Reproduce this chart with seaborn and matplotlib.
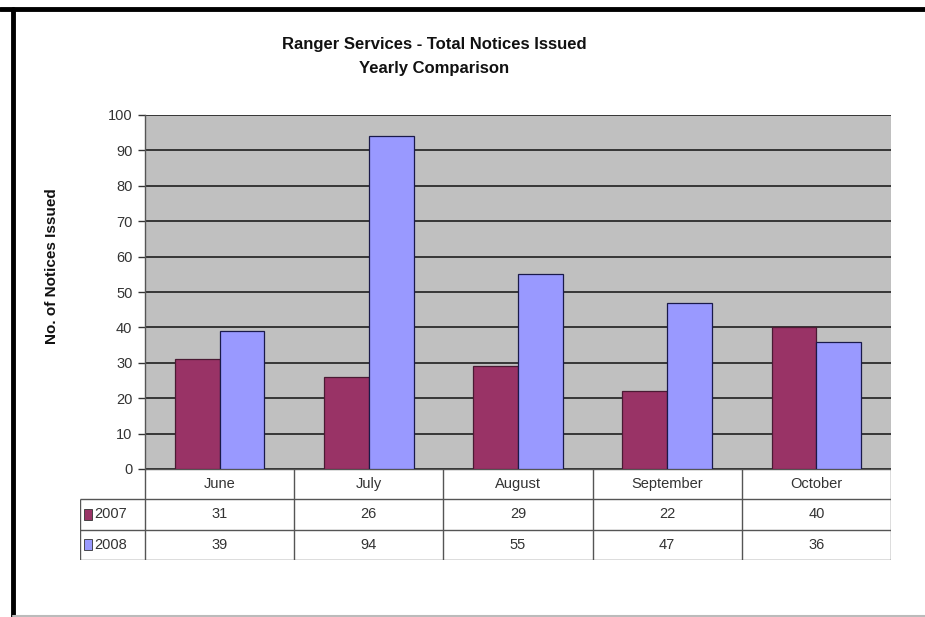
import matplotlib
matplotlib.use("Agg")
import matplotlib.pyplot as plt
from matplotlib.lines import Line2D
from matplotlib.patches import Rectangle
import seaborn as sns
import pandas as pd

months = ["June", "July", "August", "September", "October"]
years = ["2007", "2008"]
notices_2007 = [31, 26, 29, 22, 40]
notices_2008 = [39, 94, 55, 47, 36]
y_ticks = [0, 10, 20, 30, 40, 50, 60, 70, 80, 90, 100]

colors = {"2007": "#993366", "2008": "#9999FF"}

df = pd.DataFrame({
    "Month": months * 2,
    "Year": [years[0]] * len(months) + [years[1]] * len(months),
    "Notices": notices_2007 + notices_2008,
})

sns.set_theme(style="white")
plt.rcParams["font.family"] = ["Liberation Sans Narrow", "Liberation Sans", "DejaVu Sans"]

W, H = 925, 617
fig = plt.figure(figsize=(W / 100, H / 100), dpi=100)
fig.patch.set_facecolor("white")

def fx(px):
    return px / W

def fy(py):
    return 1 - py / H

# plot area in pixel terms
L, R, T, B = 145, 891, 115, 469
ax = fig.add_axes([fx(L), fy(B), fx(R - L), (B - T) / H])
ax.set_facecolor("#C0C0C0")

sns.barplot(data=df, x="Month", y="Notices", hue="Year", order=months,
            hue_order=years, palette=colors, width=0.6, gap=0,
            edgecolor="#1a1a4a", linewidth=0.9, saturation=1, ax=ax,
            legend=False, zorder=3)
for patch in ax.patches[:len(months)]:
    patch.set_edgecolor("#4a1a33")

ax.set_xlim(-0.5, len(months) - 0.5)
ax.set_ylim(0, 100)
ax.set_yticks(y_ticks)
ax.set_yticklabels([str(t) for t in y_ticks], fontsize=10.5, color="#333333")
ax.tick_params(axis="y", length=5, width=1, color="#333333", pad=4, left=True)
ax.tick_params(axis="x", length=0, labelbottom=False)
ax.set_xlabel("")
ax.set_ylabel("")
ax.yaxis.grid(True, color="#111111", linewidth=1.1, zorder=1)
ax.set_axisbelow(True)
for side in ["top", "right", "bottom"]:
    ax.spines[side].set_visible(False)
ax.spines["left"].set_color("#555555")
ax.spines["left"].set_linewidth(1.0)

# data table below the plot
cat_px = (R - L) / len(months)
left_px = 80
tab = fig.add_axes([fx(left_px), fy(560), fx(R - left_px), (560 - 469) / H])
x0 = -0.5 - (L - left_px) / cat_px
tab.set_xlim(x0, len(months) - 0.5)
tab.set_ylim(3, 0)
tab.axis("off")
line_kw = dict(color="#555555", linewidth=1.0, solid_capstyle="butt")

# horizontal lines
tab.add_line(Line2D([-0.5, len(months) - 0.5], [0, 0], **line_kw))
for r in (1, 2, 3):
    tab.add_line(Line2D([x0, len(months) - 0.5], [r, r], **line_kw))
# vertical lines
for i in range(len(months) + 1):
    tab.add_line(Line2D([i - 0.5, i - 0.5], [0, 3], **line_kw))
tab.add_line(Line2D([x0, x0], [1, 3], **line_kw))

txt_kw = dict(ha="center", va="center", fontsize=10.5, color="#333333")
for i, m in enumerate(months):
    tab.text(i, 0.5, m, **txt_kw)
    tab.text(i, 1.5, str(notices_2007[i]), **txt_kw)
    tab.text(i, 2.5, str(notices_2008[i]), **txt_kw)

for r, yr in enumerate(years, start=1):
    sw = (5 / cat_px)
    tab.add_patch(Rectangle((x0 + 0.03, r + 0.32), sw * 1.5, 0.36,
                            facecolor=colors[yr], edgecolor="#333333", linewidth=0.6))
    tab.text(x0 + 0.03 + sw * 1.5 + 0.015, r + 0.5, yr, ha="left", va="center",
             fontsize=10.5, color="#333333")

# title and axis label
fig.text(fx(434), fy(45), "Ranger Services - Total Notices Issued", ha="center",
         va="center", fontsize=12, fontweight="bold", color="#111111")
fig.text(fx(434), fy(69), "Yearly Comparison", ha="center", va="center",
         fontsize=12, fontweight="bold", color="#111111")
fig.text(fx(52), fy(266), "No. of Notices Issued", rotation=90, ha="center",
         va="center", fontsize=11, fontweight="bold", color="#111111")

# chart frame
fig.add_artist(Line2D([0, 1], [fy(8.5), fy(8.5)], color="black", linewidth=3.5,
                      transform=fig.transFigure))
fig.add_artist(Line2D([fx(12.5), fx(12.5)], [fy(8.5), 0], color="black",
                      linewidth=3.5, transform=fig.transFigure))
fig.add_artist(Line2D([fx(12.5), 1], [fy(615.5), fy(615.5)], color="#bbbbbb",
                      linewidth=1.5, transform=fig.transFigure))

fig.savefig("out.png", dpi=100)
